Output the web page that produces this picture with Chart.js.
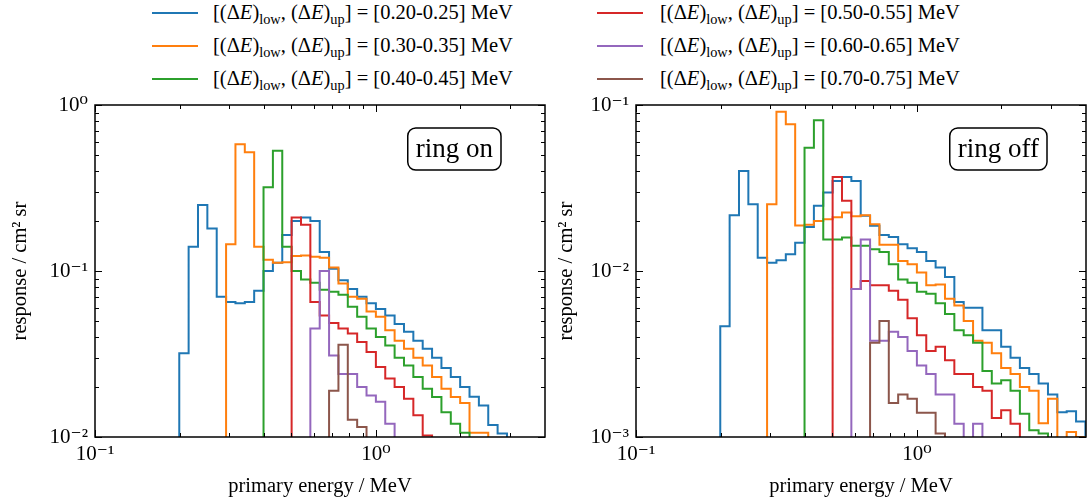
<!DOCTYPE html>
<html>
<head>
<meta charset="utf-8">
<script src="https://cdn.jsdelivr.net/npm/chart.js@4.4.1/dist/chart.umd.min.js"></script>
<style>
  body { margin: 0; width: 1092px; height: 502px; background: #fff; position: relative; overflow: hidden;
         font-family: 'Liberation Serif', 'DejaVu Serif', serif; }
  canvas { position: absolute; top: 0; }
  .key-line { position: absolute; height: 2px; width: 46px; }
  .key-text { position: absolute; font-family: 'Liberation Serif', 'DejaVu Serif', serif; font-size: 20.5px;
              line-height: 24px; height: 24px; white-space: nowrap; color: #000; }
  .key-text sub { font-size: 70%; vertical-align: baseline; position: relative; top: 0.32em; }
</style>
</head>
<body>
<div id="legend"></div>
<canvas id="ringOn" width="546" height="502" style="left:0"></canvas>
<canvas id="ringOff" width="546" height="502" style="left:546px"></canvas>
<script>
const FONT = '"Liberation Serif", "DejaVu Serif", serif';

// series labels / colours
const ranges = ['0.20-0.25', '0.30-0.35', '0.40-0.45', '0.50-0.55', '0.60-0.65', '0.70-0.75'];
const colors = ['#1f77b4', '#ff7f0e', '#2ca02c', '#d62728', '#9467bd', '#8c564b'];

// log bins, 30 per decade starting at 0.1 MeV
const edges = Array.from({ length: 49 }, (_, k) => 0.1 * Math.pow(10, k / 30));
// first bin index of every series
const firstBin = [9, 14, 18, 21, 23, 25];

// ring on
const onBlue = [0.032, 0.14, 0.25, 0.18, 0.07, 0.065, 0.064, 0.065, 0.076, 0.10, 0.112, 0.165, 0.20, 0.21, 0.20,
  0.13, 0.103, 0.088, 0.078, 0.07, 0.064, 0.059, 0.054, 0.048, 0.043, 0.038, 0.034, 0.030, 0.026, 0.023, 0.020,
  0.0175, 0.0155, 0.0118, 0.0105];
const onOrange = [0.145, 0.58, 0.52, 0.14, 0.117, 0.112, 0.113, 0.123, 0.124, 0.122, 0.12, 0.105, 0.084, 0.07,
  0.068, 0.057, 0.053, 0.044, 0.038, 0.034, 0.030, 0.027, 0.023, 0.0195, 0.0174, 0.016, 0.0106, 0.0106];
const onGreen = [0.32, 0.53, 0.14, 0.1, 0.089, 0.085, 0.077, 0.075, 0.072, 0.061, 0.053, 0.045, 0.04, 0.0356,
  0.03, 0.027, 0.023, 0.0195, 0.0174, 0.0141, 0.012, 0.0106];
const onRed = [0.21, 0.19, 0.065, 0.054, 0.0486, 0.045, 0.042, 0.0373, 0.0325, 0.0264, 0.0225, 0.02, 0.017,
  0.0135, 0.0102];
const onPurple = [0.045, 0.1, 0.031, 0.024, 0.024, 0.02, 0.0178, 0.0163, 0.012];
const onBrown = [0.019, 0.036, 0.0127, 0.0115];

// ring off
const offBlue = [0.00465, 0.0217, 0.040, 0.0252, 0.012, 0.0112, 0.0116, 0.0126, 0.0148, 0.0184, 0.0247, 0.0297,
  0.0349, 0.0368, 0.0349, 0.0215, 0.0187, 0.0165, 0.016, 0.0145, 0.0137, 0.013, 0.0115, 0.0105, 0.0092, 0.0065,
  0.006, 0.006, 0.0044, 0.0044, 0.0035, 0.003, 0.0026, 0.0024, 0.0021, 0.0018, 0.00141, 0.00143, 0.00124];
const offOrange = [0.0252, 0.091, 0.0765, 0.0188, 0.019, 0.02, 0.0205, 0.0211, 0.0225, 0.0214, 0.0217, 0.0191,
  0.0144, 0.0144, 0.0115, 0.011, 0.0098, 0.0082, 0.0083, 0.0068, 0.0062, 0.005, 0.0038, 0.0037, 0.0032, 0.0026,
  0.0024, 0.002, 0.0019, 0.00121, 0.0017, 0.0009, 0.00107, 0.001];
const offGreen = [0.0553, 0.081, 0.0155, 0.0155, 0.0159, 0.0142, 0.0142, 0.0135, 0.013, 0.011, 0.0089, 0.0085,
  0.0075, 0.0073, 0.0064, 0.0055, 0.0044, 0.0041, 0.0037, 0.0025, 0.0021, 0.0022, 0.0019, 0.00138, 0.0011, 0.00105];
const offRed = [0.0368, 0.0265, 0.0078, 0.0087, 0.0082, 0.0082, 0.0076, 0.0067, 0.0052, 0.0041, 0.0033, 0.0035,
  0.0029, 0.0024, 0.0024, 0.002, 0.0019, 0.0013, 0.00145, 0.0012];
const offPurple = [0.0078, 0.0155, 0.0038, 0.0038, 0.0043, 0.004, 0.0033, 0.0027, 0.0024, 0.0018, 0.0018, 0.0012,
  0.00095, 0.0012];
const offBrown = [0.0037, 0.005, 0.0016, 0.0018, 0.0017, 0.0014, 0.0014, 0.00105];

// axis ticks
const xMajor = [0.1, 1];
const xMinor = [0.2, 0.3, 0.4, 0.5, 0.6, 0.7, 0.8, 0.9, 2, 3];
const onYMajor = [0.01, 0.1, 1];
const offYMajor = [0.001, 0.01, 0.1];
const mantissas = [2, 3, 4, 5, 6, 7, 8, 9];

const FLOOR = 1e-6; // below both axes, line drops out of view

const sup = { '-': '\u207B', '0': '\u2070', '1': '\u00B9', '2': '\u00B2', '3': '\u00B3' };
const pow10Label = v => {
  const e = Math.round(Math.log10(v));
  return '10' + String(e).split('').map(c => sup[c]).join('');
};

function stepPoints(values, start) {
  const pts = [{ x: edges[start], y: FLOOR }];
  values.forEach((v, i) => pts.push({ x: edges[start + i], y: v }));
  pts.push({ x: edges[start + values.length], y: FLOOR });
  return pts;
}

// frame + inward ticks on all four sides
const frameTicks = {
  id: 'frameTicks',
  afterDraw(chart, args, opts) {
    const { ctx, chartArea: a, scales: { x, y } } = chart;
    ctx.save();
    ctx.strokeStyle = '#000';
    ctx.lineWidth = 1;
    ctx.beginPath();
    const yMinor = [];
    opts.yMajor.slice(0, -1).forEach(d => mantissas.forEach(m => yMinor.push(d * m)));
    const xt = (list, len) => list.forEach(v => {
      const px = Math.round(x.getPixelForValue(v)) + 0.5;
      ctx.moveTo(px, a.bottom); ctx.lineTo(px, a.bottom - len);
      ctx.moveTo(px, a.top); ctx.lineTo(px, a.top + len);
    });
    const yt = (list, len) => list.forEach(v => {
      const py = Math.round(y.getPixelForValue(v)) + 0.5;
      ctx.moveTo(a.left, py); ctx.lineTo(a.left + len, py);
      ctx.moveTo(a.right, py); ctx.lineTo(a.right - len, py);
    });
    xt(xMajor, 7); xt(xMinor, 4);
    yt(opts.yMajor, 7); yt(yMinor, 4);
    ctx.stroke();
    ctx.lineWidth = 1.5;
    ctx.strokeRect(a.left, a.top, a.right - a.left, a.bottom - a.top);
    ctx.restore();
  }
};

// rounded label box
const tagBox = {
  id: 'tagBox',
  afterDraw(chart, args, opts) {
    const { ctx, chartArea: a } = chart;
    ctx.save();
    ctx.font = '27px ' + FONT;
    const w = ctx.measureText(opts.text).width + 16;
    const h = 42;
    const x1 = a.right - opts.right, x0 = x1 - w, y0 = a.top + 23;
    ctx.beginPath();
    ctx.roundRect(x0, y0, w, h, 8);
    ctx.fillStyle = '#fff';
    ctx.fill();
    ctx.lineWidth = 1.5;
    ctx.strokeStyle = '#000';
    ctx.stroke();
    ctx.fillStyle = '#000';
    ctx.textAlign = 'center';
    ctx.textBaseline = 'middle';
    ctx.fillText(opts.text, (x0 + x1) / 2, y0 + h / 2 + 1);
    ctx.restore();
  }
};

function makePanel(id, series, yMajor, boxText, yAxisWidth, padRight, boxRight) {
  const n = series.length;
  return new Chart(document.getElementById(id), {
    type: 'line',
    data: {
      datasets: series.map((vals, i) => ({
        data: stepPoints(vals, firstBin[i]),
        borderColor: colors[i],
        borderWidth: 2,
        pointRadius: 0,
        fill: false,
        stepped: 'before',
        order: n - i
      }))
    },
    options: {
      responsive: false,
      animation: false,
      events: [],
      layout: { padding: { top: 105, right: padRight, left: 0, bottom: 0 } },
      plugins: {
        legend: { display: false },
        tooltip: { enabled: false },
        frameTicks: { yMajor },
        tagBox: { text: boxText, right: boxRight }
      },
      scales: {
        x: {
          type: 'logarithmic', min: 0.1, max: 4, bounds: 'data',
          grid: { display: false, drawTicks: false },
          border: { display: false },
          afterBuildTicks: s => { s.ticks = xMajor.map(v => ({ value: v })); },
          afterFit: s => { s.height = 65; s.paddingLeft = 0; s.paddingRight = 0; },
          ticks: { callback: v => pow10Label(v), font: { family: FONT, size: 21 }, color: '#000',
                   padding: 5, autoSkip: false, maxRotation: 0 },
          title: { display: true, text: 'primary energy / MeV', color: '#000',
                   font: { family: FONT, size: 20.5 }, padding: { top: 0, bottom: 3 } }
        },
        y: {
          type: 'logarithmic', min: yMajor[0], max: yMajor[yMajor.length - 1], bounds: 'data',
          grid: { display: false, drawTicks: false },
          border: { display: false },
          afterBuildTicks: s => { s.ticks = yMajor.map(v => ({ value: v })); },
          afterFit: s => { s.width = yAxisWidth; s.paddingTop = 0; s.paddingBottom = 0; },
          ticks: { callback: v => pow10Label(v), font: { family: FONT, size: 21 }, color: '#000',
                   padding: 7, autoSkip: false },
          title: { display: true, text: 'response / cm\u00B2 sr', color: '#000',
                   font: { family: FONT, size: 20.5 }, padding: { top: 8, bottom: 0 } }
        }
      }
    },
    plugins: [frameTicks, tagBox]
  });
}

makePanel('ringOn', [onBlue, onOrange, onGreen, onRed, onPurple, onBrown], onYMajor, 'ring on', 95, 1, 44);
makePanel('ringOff', [offBlue, offOrange, offGreen, offRed, offPurple, offBrown], offYMajor, 'ring off', 90, 6, 39);

// legend, two columns of three
const legend = document.getElementById('legend');
const lineX = [152, 597];
const textX = [213, 660];
const rowY = [13, 46, 79];
ranges.forEach((r, i) => {
  const col = Math.floor(i / 3), row = i % 3;
  const ln = document.createElement('div');
  ln.className = 'key-line';
  ln.style.left = lineX[col] + 'px';
  ln.style.top = (rowY[row] - 1) + 'px';
  ln.style.background = colors[i];
  legend.appendChild(ln);
  const tx = document.createElement('div');
  tx.className = 'key-text';
  tx.style.left = textX[col] + 'px';
  tx.style.top = (rowY[row] - 13) + 'px';
  tx.innerHTML = '[(\u0394<i>E</i>)<sub>low</sub>, (\u0394<i>E</i>)<sub>up</sub>] = [' + r + '] MeV';
  legend.appendChild(tx);
});
</script>
</body>
</html>
